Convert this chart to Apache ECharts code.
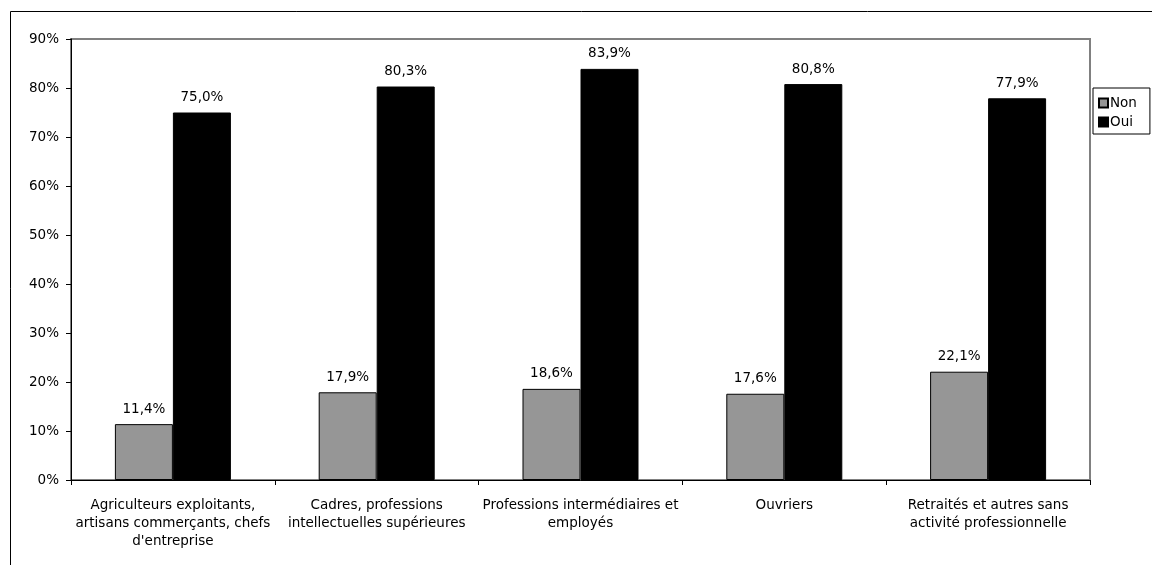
<!DOCTYPE html>
<html>
<head>
<meta charset="utf-8">
<script src="https://cdn.jsdelivr.net/npm/echarts@6/dist/echarts.min.js"></script>
<style>
  html, body { margin: 0; padding: 0; background: #fff; }
  #chart { width: 1152px; height: 565px; }
</style>
</head>
<body>
<div id="chart"></div>
<script>
// Catégories socioprofessionnelles
const categories = [
  "Agriculteurs exploitants,\nartisans commerçants, chefs\nd'entreprise",
  "Cadres, professions\nintellectuelles supérieures",
  "Professions intermédiaires et\nemployés",
  "Ouvriers",
  "Retraités et autres sans\nactivité professionnelle"
];
// Parts en pourcentage
const nonValues = [11.4, 17.9, 18.6, 17.6, 22.1];
const ouiValues = [75.0, 80.3, 83.9, 80.8, 77.9];
const seriesNames = ["Non", "Oui"];

const FONT = "DejaVu Sans";
const FS = 13.5;
const fmtPct = v => v.toFixed(1).replace(".", ",") + "%";

const chart = echarts.init(document.getElementById("chart"), null, { renderer: "canvas" });

const barLabel = {
  show: true,
  position: "top",
  distance: 8,
  color: "#000",
  fontFamily: FONT,
  fontSize: FS,
  formatter: p => fmtPct(p.value)
};

chart.setOption({
  animation: false,
  backgroundColor: "#fff",
  textStyle: { fontFamily: FONT },
  grid: {
    left: 71, right: 62, top: 39, bottom: 85,
    show: true,
    borderColor: "#808080",
    borderWidth: 2,
    backgroundColor: "#fff"
  },
  legend: {
    orient: "vertical",
    left: 1093,
    top: 88,
    data: seriesNames,
    icon: "rect",
    itemWidth: 9,
    itemHeight: 9,
    itemGap: 5,
    padding: [8, 13, 5, 5],
    borderColor: "#000",
    borderWidth: 1,
    backgroundColor: "#fff",
    textStyle: { fontFamily: FONT, fontSize: FS, color: "#000", padding: [0, 0, 0, -3] }
  },
  xAxis: {
    type: "category",
    data: categories,
    axisLine: { show: true, lineStyle: { color: "#000", width: 1 } },
    axisTick: { show: true, length: 5, lineStyle: { color: "#000" } },
    axisLabel: {
      interval: 0,
      margin: 16,
      color: "#000",
      fontFamily: FONT,
      fontSize: FS,
      lineHeight: 18,
      align: "center"
    }
  },
  yAxis: {
    type: "value",
    min: 0,
    max: 90,
    interval: 10,
    axisLine: { show: true, lineStyle: { color: "#000", width: 1 } },
    axisTick: { show: true, length: 5, lineStyle: { color: "#000" } },
    splitLine: { show: false },
    axisLabel: {
      margin: 12,
      color: "#000",
      fontFamily: FONT,
      fontSize: FS,
      formatter: v => v + "%"
    }
  },
  series: [
    {
      name: seriesNames[0],
      type: "bar",
      data: nonValues,
      barWidth: 58,
      barGap: "0%",
      itemStyle: { color: "#969696", borderColor: "#000", borderWidth: 1 },
      label: barLabel
    },
    {
      name: seriesNames[1],
      type: "bar",
      data: ouiValues,
      barWidth: 58,
      barGap: "0%",
      itemStyle: { color: "#000", borderColor: "#000", borderWidth: 1 },
      label: barLabel
    }
  ],
  graphic: [
    {
      type: "rect",
      silent: true,
      z: 100,
      shape: { x: 10.5, y: 11.5, width: 1300, height: 700 },
      style: { fill: "none", stroke: "#000", lineWidth: 1 }
    }
  ]
});
</script>
</body>
</html>
